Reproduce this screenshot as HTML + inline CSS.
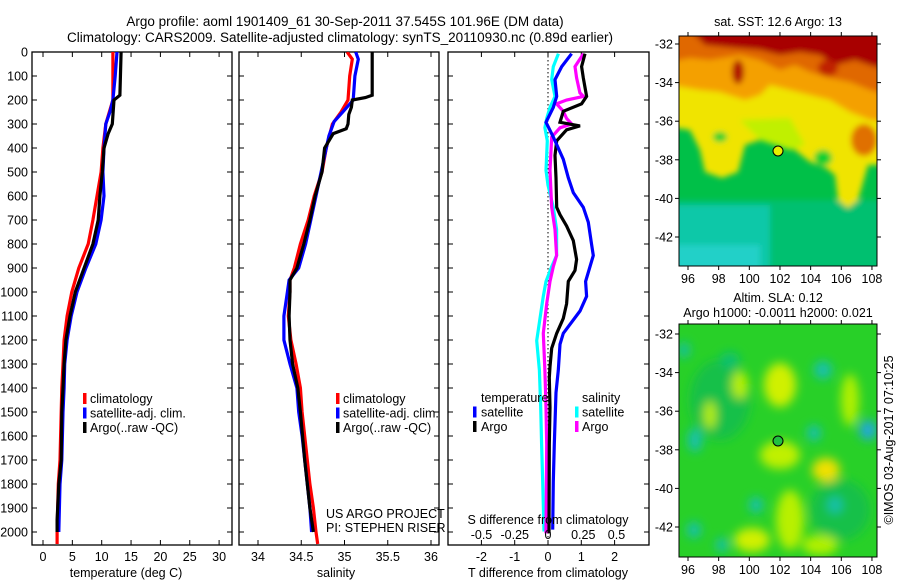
<!DOCTYPE html>
<html><head><meta charset="utf-8">
<style>
body{margin:0;background:#fff;}
svg{display:block;font-family:"Liberation Sans",sans-serif;}
text{fill:#000;}
</style></head>
<body>
<svg id="c" width="900" height="580" viewBox="0 0 900 580" xmlns="http://www.w3.org/2000/svg">
<defs>
<filter id="bl" x="-20%" y="-20%" width="140%" height="140%"><feGaussianBlur stdDeviation="3"/></filter>
<filter id="bl2" x="-50%" y="-50%" width="200%" height="200%"><feGaussianBlur stdDeviation="5"/></filter>
<clipPath id="m1"><rect x="679" y="36" width="198" height="230"/></clipPath>
<clipPath id="m2"><rect x="679" y="324" width="198" height="233"/></clipPath>
<clipPath id="p1"><rect x="32" y="52" width="200" height="493"/></clipPath>
<clipPath id="p2"><rect x="239" y="52" width="200" height="493"/></clipPath>
<clipPath id="p3"><rect x="448" y="52" width="201" height="493"/></clipPath>
</defs>
<text x="345" y="26" font-size="13.5" text-anchor="middle">Argo profile: aoml 1901409_61 30-Sep-2011 37.545S 101.96E (DM data)</text>
<text x="340" y="42" font-size="13.5" text-anchor="middle">Climatology: CARS2009. Satellite-adjusted climatology: synTS_20110930.nc (0.89d earlier)</text>

<!-- top map -->
<g>
<g clip-path="url(#m1)">
<rect x="679" y="36" width="198" height="230" fill="#00c048"/>
<g filter="url(#bl)">
<rect x="670" y="200" width="220" height="80" fill="#00c070"/>
<rect x="670" y="205" width="100" height="75" fill="#10c8a8"/>
<rect x="670" y="245" width="90" height="30" fill="#20d0c8"/>
<path d="M670,30 L890,30 L890,165 L868,165 L858,200 L848,208 L838,200 L835,175 L826,168 L810,162 L795,150 L780,143 L760,140 L745,145 L738,172 L722,178 L705,172 L700,150 L690,130 L670,127 Z" fill="#f0e400"/>
<path d="M740,120 L790,118 L805,145 L790,150 L760,140 Z" fill="#c0f000"/>
<ellipse cx="823" cy="158" rx="9" ry="8" fill="#10d030"/>
<ellipse cx="720" cy="137" rx="7" ry="5" fill="#10d030"/>
<path d="M670,30 L890,30 L890,122 L870,120 L850,112 L830,100 L810,95 L790,90 L770,85 L760,95 L745,100 L720,92 L700,90 L670,85 Z" fill="#f4a000"/>
<path d="M670,30 L890,30 L890,95 L870,90 L850,82 L830,78 L810,72 L795,65 L780,70 L760,60 L740,55 L710,60 L690,58 L670,62 Z" fill="#e06800"/>
<path d="M690,30 L890,30 L890,70 L872,66 L855,60 L835,65 L820,55 L800,52 L780,55 L760,50 L735,48 L705,45 Z" fill="#a80000"/>
<ellipse cx="738" cy="72" rx="6" ry="12" fill="#b01000"/>
<ellipse cx="828" cy="68" rx="10" ry="8" fill="#c02000"/>
<ellipse cx="864" cy="140" rx="13" ry="16" fill="#e07000"/>
</g>
</g>
<rect x="679" y="36" width="198" height="230" fill="none" stroke="#000" stroke-width="1"/>
<circle cx="778" cy="151" r="5" fill="#e8f000" stroke="#000" stroke-width="1"/>
</g>
<text x="778" y="26" font-size="12.5" text-anchor="middle">sat. SST: 12.6 Argo: 13</text>

<!-- bottom map -->
<g>
<g clip-path="url(#m2)">
<rect x="679" y="324" width="198" height="233" fill="#28d028"/>
<g filter="url(#bl2)">
<ellipse cx="720" cy="400" rx="30" ry="40" fill="#18c048"/>
<ellipse cx="840" cy="510" rx="30" ry="30" fill="#18c048"/>
<ellipse cx="780" cy="385" rx="16" ry="22" fill="#d0f000"/>
<ellipse cx="740" cy="385" rx="8" ry="14" fill="#b8f000"/>
<ellipse cx="710" cy="415" rx="6" ry="14" fill="#b8f000"/>
<ellipse cx="780" cy="455" rx="20" ry="14" fill="#c0f000"/>
<ellipse cx="826" cy="470" rx="14" ry="12" fill="#f0e000"/>
<ellipse cx="850" cy="400" rx="9" ry="26" fill="#b0f000"/>
<ellipse cx="790" cy="520" rx="14" ry="30" fill="#b8f000"/>
<ellipse cx="752" cy="540" rx="18" ry="12" fill="#d0f000"/>
<ellipse cx="820" cy="545" rx="18" ry="10" fill="#b0f000"/>
<ellipse cx="823" cy="370" rx="9" ry="9" fill="#18c0b0"/>
<ellipse cx="814" cy="433" rx="7" ry="8" fill="#18c0b0"/>
<ellipse cx="868" cy="430" rx="9" ry="10" fill="#20a8d8"/>
<ellipse cx="695" cy="440" rx="7" ry="12" fill="#18c0b0"/>
<ellipse cx="756" cy="505" rx="7" ry="8" fill="#18c0b0"/>
<ellipse cx="835" cy="505" rx="7" ry="8" fill="#18c0b0"/>
<ellipse cx="694" cy="530" rx="7" ry="8" fill="#18c0b0"/>
<ellipse cx="722" cy="545" rx="6" ry="7" fill="#18c0b0"/>
<ellipse cx="684" cy="350" rx="6" ry="8" fill="#18c0a0"/>
<ellipse cx="730" cy="360" rx="10" ry="8" fill="#10c070"/>
</g>
</g>
<rect x="679" y="324" width="198" height="233" fill="none" stroke="#000" stroke-width="1"/>
<circle cx="778" cy="441" r="5" fill="#20c040" stroke="#000" stroke-width="1"/>
</g>
<text x="778" y="302" font-size="12.5" text-anchor="middle">Altim. SLA: 0.12</text>
<text x="778" y="317" font-size="12.5" text-anchor="middle">Argo h1000: -0.0011 h2000: 0.021</text>
<text transform="translate(893,440) rotate(-90)" font-size="12.5" text-anchor="middle">©IMOS 03-Aug-2017 07:10:25</text>

<text x="326" y="518" font-size="12.5">US ARGO PROJECT</text>
<text x="326" y="532" font-size="12.5">PI: STEPHEN RISER</text>
<g id="g"></g>
</svg>
<script>
// ---- data ----
const depthTicks=[0,100,200,300,400,500,600,700,800,900,1000,1100,1200,1300,1400,1500,1600,1700,1800,1900,2000];
const tempTicks=[0,5,10,15,20,25,30];
const salTicks=[34,34.5,35,35.5,36];
const dTTicks=[-2,-1,0,1,2];
const dSTicks=[-0.5,-0.25,0,0.25,0.5];
const dSTickLabels=["-0.5","-0.25","0","0.25","0.5"];

const tClimDepth=[0,200,300,400,500,600,700,800,900,1000,1100,1200,1300,1400,1500,1700,1800,2000,2050];
const tClim=[11.9,11.9,10.7,10.2,9.9,9.2,8.5,7.7,6.1,4.9,4.1,3.6,3.4,3.2,3.1,2.9,2.6,2.4,2.4];
const tSatDepth=[0,100,200,250,300,400,500,600,700,800,900,1000,1100,1200,1300,1400,1500,1700,1800,2000];
const tSat=[12.6,12.3,11.9,11.4,10.7,10.4,10.2,10.4,9.9,9.0,7.3,5.8,4.8,4.1,3.7,3.6,3.4,3.2,2.9,2.7];
const tArgoDepth=[0,180,200,300,340,400,500,600,700,800,900,1000,1100,1200,1300,1400,1500,1700,1800,1950,2000];
const tArgo=[13.3,13.1,12.1,11.8,11.1,10.4,10.1,9.7,9.4,8.5,7.0,5.5,4.6,3.9,3.6,3.4,3.2,3.1,2.7,2.4,2.4];

const sClimDepth=[0,30,100,200,250,300,400,500,600,700,800,900,950,1000,1100,1200,1300,1400,1500,1600,1700,1800,1900,2000,2050];
const sClim=[35.03,35.09,35.06,35.04,34.96,34.86,34.79,34.74,34.65,34.58,34.49,34.42,34.37,34.37,34.35,34.38,34.44,34.49,34.51,34.54,34.57,34.60,34.64,34.67,34.69];
const sSatDepth=[0,30,100,200,250,290,350,400,500,600,700,800,900,950,1000,1100,1200,1300,1400,1500,1600,1700,1800,1900,2000];
const sSat=[35.13,35.16,35.12,35.10,34.98,34.88,34.82,34.79,34.73,34.67,34.61,34.55,34.47,34.36,34.34,34.30,34.30,34.37,34.45,34.47,34.51,34.54,34.57,34.60,34.62];
const sArgoDepth=[0,100,180,190,200,230,260,300,320,340,400,500,600,700,800,900,950,1000,1100,1200,1300,1400,1500,1700,1900,2000];
const sArgo=[35.32,35.32,35.32,35.24,35.09,35.08,35.05,35.04,35.02,34.87,34.77,34.74,34.66,34.60,34.53,34.45,34.37,34.37,34.36,34.37,34.40,34.46,34.49,34.54,34.60,34.64];

const dTSatDepth=[7,61,115,185,231,293,354,447,524,586,647,709,802,848,956,1018,1079,1172,1218,1326,1419,1635,1790,1990];
const dTSat=[0.71,0.41,0.21,0.26,0.16,-0.06,0.16,0.46,0.61,0.76,1.06,1.21,1.31,1.36,1.13,1.16,0.96,0.46,0.36,0.31,0.24,0.19,0.16,0.14];
const dTArgoDepth=[7,61,108,185,216,247,293,308,324,370,431,524,647,678,725,786,864,910,956,1049,1110,1172,1234,1311,1357,1481,1635,2006];
const dTArgo=[1.11,1.01,1.06,1.16,1.01,0.46,0.36,0.96,0.56,0.26,0.21,0.24,0.26,0.36,0.56,0.76,0.86,0.81,0.61,0.56,0.46,0.26,0.11,0.06,0.04,0.06,0.04,0.03];
const dSSatDepth=[7,61,115,185,231,277,316,370,493,555,647,740,848,894,956,1018,1110,1203,1326,1481,1635,1790,1998];
const dSSat=[0.078,0.04,0.028,0.053,0.015,-0.01,-0.023,-0.005,-0.015,0,0.04,0.065,0.065,0.028,-0.015,-0.035,-0.06,-0.085,-0.065,-0.055,-0.048,-0.04,-0.03];
const dSArgoDepth=[7,61,108,170,185,200,216,247,277,300,316,354,493,647,740,848,894,956,1049,1172,1326,1481,1635,2006];
const dSArgo=[0.266,0.203,0.215,0.24,0.266,0.14,0.065,0.115,0.14,0.178,0.09,0.028,0.015,0.028,0.053,0.065,0.04,0.015,-0.01,-0.035,-0.023,-0.015,-0.01,-0.015];

// ---- axes ----
const NS='http://www.w3.org/2000/svg';
const G=document.getElementById('g');
function el(tag,attrs,parent){const e=document.createElementNS(NS,tag);for(const k in attrs)e.setAttribute(k,attrs[k]);(parent||G).appendChild(e);return e;}
const yTop=52,yBot=545;
function yD(d){return 52+0.24*d;}
const xT=v=>43+5.87*v;
const xS=v=>258+86.5*(v-34);
const xdT=v=>548+33.3*v;
const xdS=v=>548+133*v;

function frame(x0,x1,name,showY){
  const r=el('rect',{x:x0,y:yTop,width:x1-x0,height:yBot-yTop,fill:'none',stroke:'#000','stroke-width':1.3});
  
  
  depthTicks.forEach(d=>{
    const y=yD(d);
    const t1=el('line',{x1:x0,x2:x0+5,y1:y,y2:y,stroke:'#000'});
    
    
    const t2=el('line',{x1:x1-5,x2:x1,y1:y,y2:y,stroke:'#000'});
    
    
    if(showY){
      const t=el('text',{x:x0-4,y:y+4.5,'font-size':12.5,'text-anchor':'end'});
      t.textContent=d;
      
      
    }
  });
}
function xticks(ticks,labels,fx,name,ly,top){
  ticks.forEach((v,i)=>{
    const x=fx(v);
    const a=el('line',{x1:x,x2:x,y1:yBot-5,y2:yBot,stroke:'#000'});
    
    
    if(top){
      const b=el('line',{x1:x,x2:x,y1:yTop,y2:yTop+5,stroke:'#000'});
      
      
    }
    const t=el('text',{x:x,y:ly,'font-size':12.5,'text-anchor':'middle'});
    t.textContent=labels[i];
    
    
  });
}
function series(depths,vals,fx,color,clip,name){
  const pts=depths.map((d,i)=>fx(vals[i]).toFixed(1)+','+yD(d).toFixed(1)).join(' ');
  const p=el('polyline',{points:pts,fill:'none',stroke:color,'stroke-width':3.2,'clip-path':'url(#'+clip+')','stroke-linejoin':'miter'});
  
  
}
function label(x,y,txt,name,anchor,size){
  const t=el('text',{x:x,y:y,'font-size':size||12.5,'text-anchor':anchor||'start'});
  t.textContent=txt;
  
  
}
function legendMark(x,y,color,name){
  const r=el('rect',{x:x,y:y-10,width:3.5,height:11,fill:color});
  
  
}

// panel 1
frame(32,232,'temperature-panel',true);
xticks(tempTicks,tempTicks.map(String),xT,'temperature-x',561,true);
label(126,577,'temperature (deg C)','temperature-axis-title','middle');
series(tClimDepth,tClim,xT,'#ff0000','p1','temp-climatology-line');
series(tSatDepth,tSat,xT,'#0000ff','p1','temp-satellite-line');
series(tArgoDepth,tArgo,xT,'#000000','p1','temp-argo-line');
[['#ff0000','climatology'],['#0000ff','satellite-adj. clim.'],['#000','Argo(..raw -QC)']].forEach((e,i)=>{
  legendMark(83,403+i*14.5,e[0],'temp-legend-marker');
  label(90,403+i*14.5,e[1],'temp-legend-entry');
});

// panel 2
frame(239,439,'salinity-panel',false);
xticks(salTicks,['34','34.5','35','35.5','36'],xS,'salinity-x',561,true);
label(336,577,'salinity','salinity-axis-title','middle');
series(sClimDepth,sClim,xS,'#ff0000','p2','sal-climatology-line');
series(sSatDepth,sSat,xS,'#0000ff','p2','sal-satellite-line');
series(sArgoDepth,sArgo,xS,'#000000','p2','sal-argo-line');
[['#ff0000','climatology'],['#0000ff','satellite-adj. clim.'],['#000','Argo(..raw -QC)']].forEach((e,i)=>{
  legendMark(336,403+i*14.5,e[0],'sal-legend-marker');
  label(343,403+i*14.5,e[1],'sal-legend-entry');
});

// panel 3
frame(448,649,'difference-panel',false);
const z=el('line',{x1:xdT(0),x2:xdT(0),y1:yTop,y2:yBot,stroke:'#000','stroke-dasharray':'1.5,2.5','stroke-width':1});


xticks(dTTicks,dTTicks.map(String),xdT,'t-diff-x',561,true);
label(548,577,'T difference from climatology','t-diff-axis-title','middle');
series(dSSatDepth,dSSat,xdS,'#00ffff','p3','s-diff-satellite-line');
series(dSArgoDepth,dSArgo,xdS,'#ff00ff','p3','s-diff-argo-line');
series(dTArgoDepth,dTArgo,xdT,'#000000','p3','t-diff-argo-line');
series(dTSatDepth,dTSat,xdT,'#0000ff','p3','t-diff-satellite-line');
label(548,524,'S difference from climatology','s-diff-axis-title','middle');
dSTicks.forEach((v,i)=>label(xdS(v)-(v>0?-2:0),539,dSTickLabels[i],'s-diff-tick-label','middle'));
label(481,402,'temperature','temp-legend-heading');
label(582,402,'salinity','sal-legend-heading');
legendMark(473,416.5,'#0000ff','diff-legend-marker');
label(481,416.5,'satellite','diff-legend-temp-satellite');
legendMark(473,431,'#000','diff-legend-marker');
label(481,431,'Argo','diff-legend-temp-argo');
legendMark(575,416.5,'#00ffff','diff-legend-marker');
label(582,416.5,'satellite','diff-legend-sal-satellite');
legendMark(575,431,'#ff00ff','diff-legend-marker');
label(582,431,'Argo','diff-legend-sal-argo');

// map axes
const lonTicks=[96,98,100,102,104,106,108];
const latTicks=[-32,-34,-36,-38,-40,-42];
function mapAxes(y0,y1,lat32,name){
  const xl=v=>688+15.33*(v-96);
  const yl=v=>lat32+19.3*(-32-v);
  lonTicks.forEach(v=>{
    const x=xl(v);
    const a=el('line',{x1:x,x2:x,y1:y0-4,y2:y0,stroke:'#000'});
    
    
    const b=el('line',{x1:x,x2:x,y1:y1,y2:y1+4,stroke:'#000'});
    
    
    label(x,y1+17,String(v),name+'-lon-label','middle');
  });
  latTicks.forEach(v=>{
    const y=yl(v);
    const a=el('line',{x1:675,x2:679,y1:y,y2:y,stroke:'#000'});
    
    
    const b=el('line',{x1:877,x2:881,y1:y,y2:y,stroke:'#000'});
    
    
    label(673,y+4.5,String(v),name+'-lat-label','end');
  });
}
mapAxes(36,266,44,'sst-map');
mapAxes(324,557,334,'sla-map');
</script>
</body></html>
